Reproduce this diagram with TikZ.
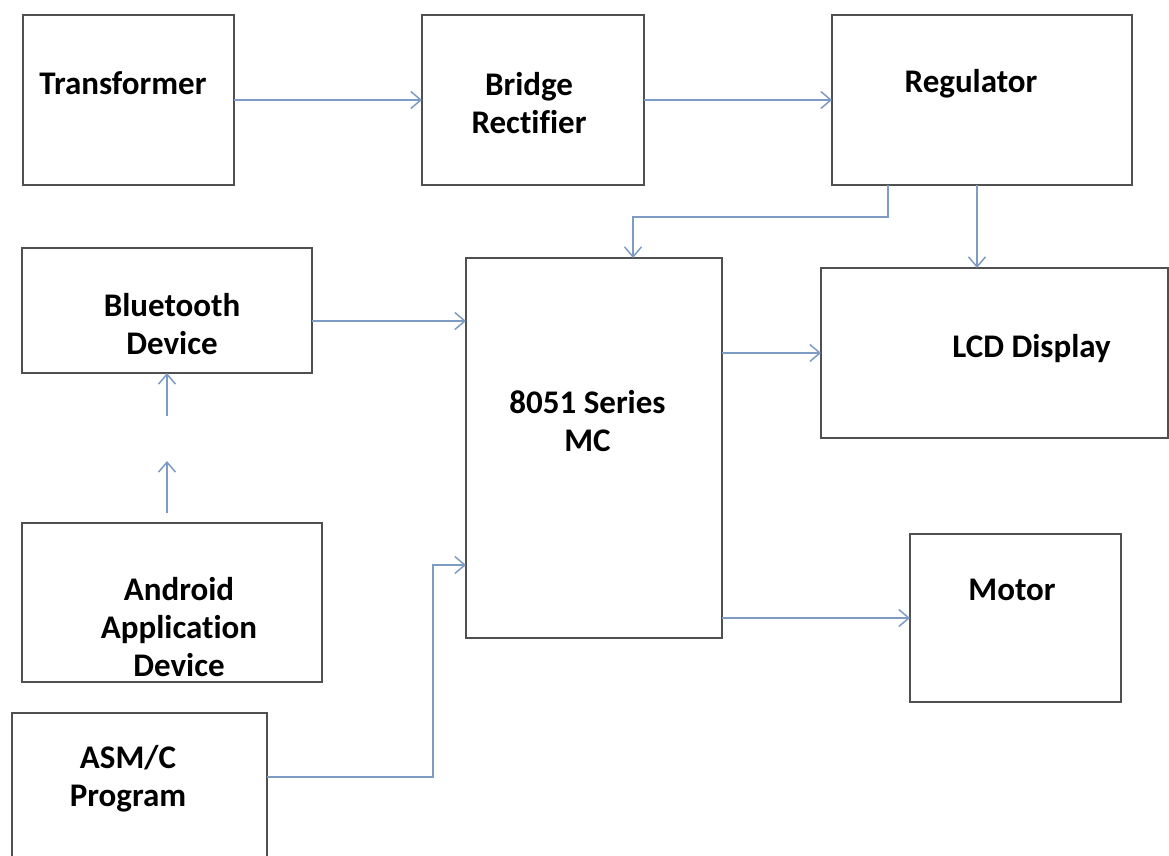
\documentclass[tikz,border=0pt]{standalone}
\usepackage{fontspec}
\setmainfont{Carlito}[Ligatures=NoCommon]
\usepackage{tikz}
\usetikzlibrary{arrows.meta}
\definecolor{boxgray}{RGB}{80,80,80}
\definecolor{wireblue}{RGB}{125,155,195}
\tikzset{block style/.style={
		draw=boxgray,
		line width=1.6pt,
		fill=white,
		rectangle,
		inner sep=0pt,
		outer sep=0pt,
	},
	text style/.style={
		text=black,
		font=\fontsize{33}{38}\selectfont\bfseries,
		align=center,
	},
	arrow style/.style={
		draw=wireblue,
		line width=1.5pt,
		-{Straight Barb[length=10pt,width=17pt]}
	}
}

\begin{document}
\begin{tikzpicture}[x=1pt,y=-1pt]
	\useasboundingbox (0,0) rectangle (1169,856);
	% power supply chain
	\node[block style, minimum width=211, minimum height=170,
		label={[text style, xshift=-5.5, yshift=17]center:Transformer}] (trans) at (128.5,100) {};
	\node[block style, minimum width=222, minimum height=170,
		label={[text style, xshift=-4, yshift=-3]center:Bridge\\Rectifier}] (bridge) at (533,100) {};
	\node[block style, minimum width=300, minimum height=170,
		label={[text style, xshift=-11, yshift=16]center:Regulator}] (reg) at (982,100) {};
	
	% inputs
	\node[block style, minimum width=290, minimum height=125,
		label={[text style, xshift=5, yshift=-13.5]center:Bluetooth\\Device}] (bt) at (167,310.5) {};
	\node[block style, minimum width=300, minimum height=159,
		label={[text style, xshift=7, yshift=-25]center:Android\\Application\\Device}] (android) at (172,602.5) {};
	\node[block style, minimum width=255, minimum height=157,
		label={[text style, xshift=-11.5, yshift=12.5]center:ASM/C\\Program}] (asm) at (139.5,791.5) {};
	
	% controller and outputs
	\node[block style, minimum width=256, minimum height=380,
		label={[text style, xshift=-6.5, yshift=27]center:8051 Series\\MC}] (mc) at (594,448) {};
	\node[block style, minimum width=347, minimum height=170,
		label={[text style, xshift=37, yshift=4]center:LCD Display}] (lcd) at (994.5,353) {};
	\node[block style, minimum width=211, minimum height=168,
		label={[text style, xshift=-3.5, yshift=28]center:Motor}] (motor) at (1015.5,618) {};
	
	% connections
	\draw[arrow style] (trans) -- (bridge);
	\draw[arrow style] (bridge) -- (reg);
	\draw[arrow style] ([xshift=-94]reg.south) -- ++(0,32) -| ([xshift=39]mc.north);
	\draw[arrow style] ([xshift=-5]reg.south) -- ([xshift=-5]reg.south |- lcd.north);
	\draw[arrow style] ([yshift=-10.5]bt.east) -- ([yshift=-10.5]bt.east -| mc.west);
	\draw[arrow style] ([yshift=10]android.north -| bt.south) -- ++(0,-52);
	\draw[arrow style] ([yshift=-43]bt.south) -- (bt.south);
	\draw[arrow style] ([yshift=14.5]asm.east) -- ++(166,0) |- ([yshift=-117]mc.west);
	\draw[arrow style] (lcd.west -| mc.east) -- (lcd.west);
	\draw[arrow style] (motor.west -| mc.east) -- (motor.west);
\end{tikzpicture}
\end{document}
